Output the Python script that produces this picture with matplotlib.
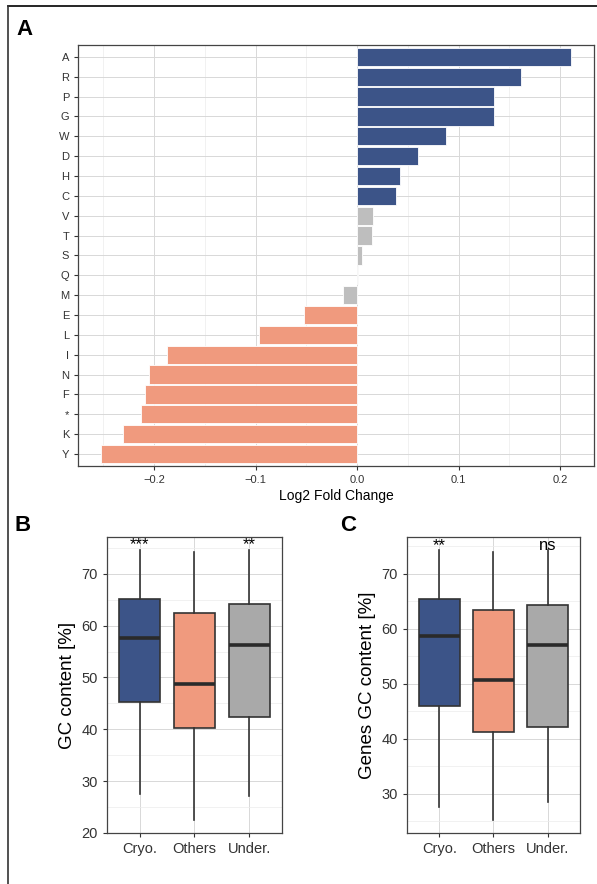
import matplotlib
matplotlib.use('Agg')
import matplotlib.pyplot as plt
from matplotlib.lines import Line2D

plt.rcParams['font.family'] = ['Liberation Sans', 'DejaVu Sans']

# panel A data (top to bottom)
aa = ['A', 'R', 'P', 'G', 'W', 'D', 'H', 'C', 'V', 'T', 'S', 'Q', 'M',
      'E', 'L', 'I', 'N', 'F', '*', 'K', 'Y']
lfc = [0.211, 0.162, 0.135, 0.135, 0.088, 0.060, 0.042, 0.038, 0.016, 0.015,
       0.005, 0.001, -0.014, -0.052, -0.097, -0.187, -0.205, -0.209, -0.213,
       -0.231, -0.252]
grp = ['up'] * 8 + ['ns'] * 5 + ['down'] * 8

groups = ['Cryo.', 'Others', 'Under.']
# whislo, q1, med, q3, whishi
gc_all = [[27.5, 45.3, 57.6, 65.2, 74.6],
          [22.5, 40.3, 48.7, 62.5, 74.2],
          [27.1, 42.4, 56.2, 64.1, 74.6]]
gc_genes = [[27.6, 46.0, 58.7, 65.5, 74.4],
            [25.3, 41.3, 50.7, 63.5, 74.0],
            [28.5, 42.2, 57.0, 64.4, 74.4]]
sig_all = ['***', '', '**']
sig_genes = ['**', '', 'ns']

bar_col = {'up': '#3c5488', 'ns': '#bebebe', 'down': '#f09a7e'}
box_col = ['#3c5488', '#f09a7e', '#a9a9a9']
spine_col = '#444444'

fig = plt.figure(figsize=(5.97, 8.84), dpi=100)


def style(ax):
    for s in ax.spines.values():
        s.set_color(spine_col)
        s.set_linewidth(0.9)
    ax.tick_params(colors='#333333', length=3, width=0.8)
    ax.grid(True, which='major', color='#d8d8d8', lw=0.7)
    ax.grid(True, which='minor', color='#ececec', lw=0.5)
    ax.set_axisbelow(True)


# ---- panel A
ax1 = fig.add_axes([0.1307, 0.4729, 0.8643, 0.4763])
ypos = list(range(len(aa)))[::-1]
ax1.barh(ypos, lfc, height=0.92, color=[bar_col[g] for g in grp],
         edgecolor='white', linewidth=0.6)
ax1.set_yticks(ypos)
ax1.set_yticklabels(aa, fontsize=8)
ax1.set_xlim(-0.275, 0.2335)
ax1.set_ylim(-0.6, len(aa) - 0.4)
ax1.set_xticks([-0.2, -0.1, 0.0, 0.1, 0.2])
ax1.set_xticklabels(['\u22120.2', '\u22120.1', '0.0', '0.1', '0.2'], fontsize=8)
ax1.set_xticks([-0.25, -0.15, -0.05, 0.05, 0.15], minor=True)
ax1.tick_params(axis='x', which='minor', length=0)
ax1.set_xlabel('Log2 Fold Change', fontsize=10, labelpad=3)
style(ax1)


def boxpanel(rect, data, sig, ylim, major, minor, ylabel, sigy):
    ax = fig.add_axes(rect)
    stats = []
    for g, d in zip(groups, data):
        stats.append({'label': g, 'whislo': d[0], 'q1': d[1], 'med': d[2],
                      'q3': d[3], 'whishi': d[4], 'fliers': []})
    bp = ax.bxp(stats, positions=[1, 2, 3], widths=0.75, patch_artist=True,
                showcaps=False,
                boxprops=dict(edgecolor='#333333', linewidth=1.2),
                whiskerprops=dict(color='#333333', linewidth=1.2),
                medianprops=dict(color='#2a2a2a', linewidth=2.6))
    for p, c in zip(bp['boxes'], box_col):
        p.set_facecolor(c)
    ax.set_xlim(0.4, 3.6)
    ax.set_ylim(*ylim)
    ax.set_yticks(major)
    ax.set_yticks(minor, minor=True)
    ax.tick_params(axis='y', which='minor', length=0)
    ax.tick_params(axis='both', labelsize=10.5)
    ax.set_xticks([1, 2, 3])
    ax.set_xticklabels(groups, fontsize=10.5)
    ax.set_ylabel(ylabel, fontsize=13.5, labelpad=4)
    style(ax)
    for i, s in enumerate(sig):
        if s:
            ax.text(i + 1, sigy, s, ha='center', va='center', fontsize=12)
    return ax


boxpanel([0.1792, 0.0577, 0.2931, 0.3348], gc_all, sig_all, (20, 77.1),
         [20, 30, 40, 50, 60, 70], [25, 35, 45, 55, 65, 75], 'GC content [%]',
         75.6)
boxpanel([0.6817, 0.0577, 0.2898, 0.3348], gc_genes, sig_genes, (22.9, 76.7),
         [30, 40, 50, 60, 70], [25, 35, 45, 55, 65, 75],
         'Genes GC content [%]', 75.2)

# panel letters
fig.text(0.028, 0.967, 'A', fontsize=16, fontweight='bold', va='center')
fig.text(0.025, 0.405, 'B', fontsize=16, fontweight='bold', va='center')
fig.text(0.569, 0.405, 'C', fontsize=16, fontweight='bold', va='center')

# frame lines (top and left)
fig.add_artist(Line2D([8 / 597, 1], [1 - 6 / 884, 1 - 6 / 884], color='black', lw=1.2))
fig.add_artist(Line2D([8 / 597, 8 / 597], [0, 1 - 6 / 884], color='#333333', lw=1.2))

fig.savefig('out.png', dpi=100)
